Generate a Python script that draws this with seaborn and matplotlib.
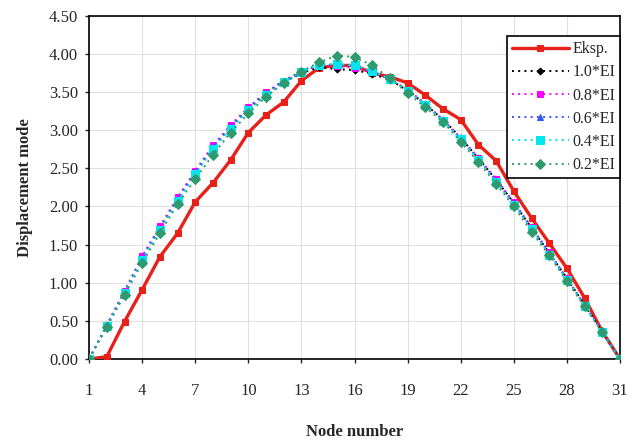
import numpy as np
import pandas as pd
import seaborn as sns
import matplotlib.pyplot as plt

nodes = list(range(1, 32))

eksp = [0.00, 0.03, 0.49, 0.91, 1.34, 1.65, 2.06, 2.31, 2.61, 2.97, 3.20, 3.37, 3.65, 3.82, 3.85, 3.85,
        3.75, 3.70, 3.62, 3.46, 3.28, 3.14, 2.81, 2.60, 2.20, 1.85, 1.52, 1.19, 0.80, 0.36, 0.00]
ei_10 = [0.00, 0.44, 0.88, 1.32, 1.71, 2.09, 2.44, 2.77, 3.04, 3.27, 3.47, 3.63, 3.75, 3.83, 3.80, 3.79,
         3.74, 3.66, 3.52, 3.34, 3.14, 2.90, 2.63, 2.35, 2.05, 1.72, 1.39, 1.06, 0.71, 0.36, 0.00]
ei_08 = [0.00, 0.45, 0.89, 1.35, 1.74, 2.12, 2.47, 2.80, 3.07, 3.30, 3.50, 3.65, 3.77, 3.85, 3.84, 3.82,
         3.76, 3.67, 3.53, 3.35, 3.14, 2.90, 2.64, 2.36, 2.06, 1.73, 1.40, 1.06, 0.71, 0.36, 0.00]
ei_06 = [0.00, 0.44, 0.88, 1.33, 1.72, 2.10, 2.45, 2.78, 3.05, 3.29, 3.49, 3.65, 3.77, 3.86, 3.86, 3.84,
         3.77, 3.67, 3.53, 3.34, 3.13, 2.89, 2.62, 2.34, 2.04, 1.72, 1.39, 1.05, 0.71, 0.36, 0.00]
ei_04 = [0.00, 0.43, 0.86, 1.30, 1.69, 2.07, 2.42, 2.75, 3.02, 3.26, 3.46, 3.63, 3.76, 3.86, 3.87, 3.85,
         3.78, 3.67, 3.52, 3.33, 3.12, 2.88, 2.61, 2.32, 2.02, 1.70, 1.37, 1.04, 0.70, 0.35, 0.00]
ei_02 = [0.00, 0.42, 0.84, 1.26, 1.65, 2.03, 2.36, 2.68, 2.97, 3.22, 3.44, 3.62, 3.77, 3.89, 3.98, 3.96,
         3.85, 3.68, 3.49, 3.30, 3.11, 2.85, 2.58, 2.30, 2.00, 1.67, 1.36, 1.02, 0.69, 0.35, 0.00]

x_ticks = [1, 4, 7, 10, 13, 16, 19, 22, 25, 28, 31]
y_ticks = [0.0, 0.5, 1.0, 1.5, 2.0, 2.5, 3.0, 3.5, 4.0, 4.5]

series = [
    ('1.0*EI', ei_10, 'black', 'D', 3.5),
    ('0.8*EI', ei_08, '#ff00ff', 's', 4),
    ('0.6*EI', ei_06, '#3355ff', '^', 4.5),
    ('0.4*EI', ei_04, '#00e5ee', 's', 6),
    ('0.2*EI', ei_02, '#2e9a6e', 'D', 5),
]

sns.set_style('white')
plt.rcParams['font.family'] = ['Liberation Serif', 'DejaVu Serif']

fig = plt.figure(figsize=(6.32, 4.41), dpi=100)
ax = fig.add_axes([0.141, 0.186, 0.84, 0.778])

df = pd.DataFrame({'node': nodes, 'val': eksp})
sns.lineplot(data=df, x='node', y='val', ax=ax, color='#e8201a', lw=2.4,
             marker='s', markersize=4, markeredgecolor='#e8201a', label='Eksp.', zorder=3)

# simulated curves, dotted
for name, vals, col, mk, ms in series:
    d = pd.DataFrame({'node': nodes, 'val': vals})
    sns.lineplot(data=d, x='node', y='val', ax=ax, color=col, lw=1.4, linestyle=(0, (1, 2.2)),
                 marker=mk, markersize=ms, markeredgecolor=col, label=name, zorder=4)

ax.set_xlim(1, 31)
ax.set_ylim(0, 4.5)
ax.set_xticks(x_ticks)
ax.set_yticks(y_ticks)
ax.set_yticklabels([f'{v:.2f}' for v in y_ticks])
ax.grid(True, color='#e0e0e0', lw=0.8)
ax.tick_params(axis='both', labelsize=12, direction='out', length=3, width=1,
               bottom=True, left=True)
ax.tick_params(axis='x', pad=14)
ax.tick_params(axis='y', pad=5)
for s in ax.spines.values():
    s.set_color('black')
    s.set_linewidth(1.2)

ax.set_xlabel('Node number', fontsize=12, fontweight='bold', labelpad=18)
ax.set_ylabel('Displacement mode', fontsize=12, fontweight='bold', labelpad=11)

leg = ax.legend(loc='upper right', bbox_to_anchor=(1.0, 0.94), fontsize=11.5, frameon=True,
                fancybox=False, edgecolor='black', framealpha=1, handlelength=3.6,
                handletextpad=0.2, labelspacing=0.45, borderpad=0.3, borderaxespad=0)
leg.get_frame().set_linewidth(1.2)

fig.savefig('out.png', dpi=100)
